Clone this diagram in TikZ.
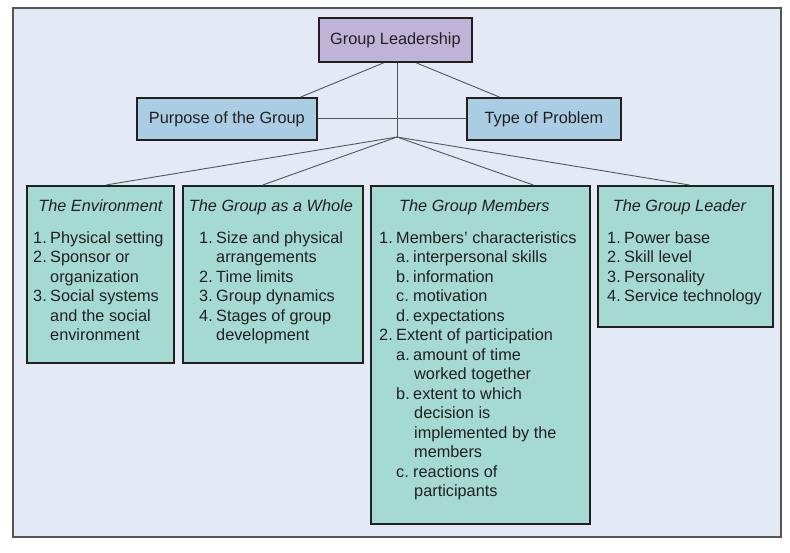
\documentclass[tikz,border=0pt]{standalone}
\usepackage{fontspec}
\setmainfont{Liberation Sans}
\usetikzlibrary{calc}
\definecolor{panelbg}{HTML}{E3E9F5}
\definecolor{panelline}{HTML}{555555}
\definecolor{glfill}{HTML}{C0B3D8}
\definecolor{midfill}{HTML}{AACDE3}
\definecolor{lowfill}{HTML}{A5DAD2}
\definecolor{ink}{HTML}{231F20}
\definecolor{conn}{HTML}{555555}
\newcommand{\Lline}[3]{\noindent\hspace*{#1}\makebox[17pt][l]{#2}#3\par}
\begin{document}
\begin{tikzpicture}[x=1pt,y=-1pt,
  font=\fontsize{16.3}{19.5}\selectfont, text=ink,
  box/.style={draw=ink, line width=1.8pt, inner sep=0pt, anchor=north west},
  conline/.style={draw=conn, line width=0.9pt},
  boxtitle/.style={font=\fontsize{16.3}{19.5}\selectfont\itshape, anchor=base, inner sep=0pt},
  listtext/.style={anchor=base west, inner sep=0pt}]
\useasboundingbox (0,0) rectangle (790,552);
\filldraw[fill=panelbg, draw=panelline, line width=1.2pt] (13,8) rectangle (781,537);

% boxes
\node[box, fill=glfill, minimum width=153pt, minimum height=44pt] (gl) at (318,17) {Group Leadership};
\node[box, fill=midfill, minimum width=180pt, minimum height=42pt] (pur) at (136,97) {Purpose of the Group};
\node[box, fill=midfill, minimum width=154pt, minimum height=42pt] (typ) at (466,97) {Type of Problem};
\node[box, fill=lowfill, minimum width=147pt, minimum height=177pt] (env) at (26,185) {};
\node[box, fill=lowfill, minimum width=180pt, minimum height=177pt] (gw) at (182,185) {};
\node[box, fill=lowfill, minimum width=219pt, minimum height=338pt] (mem) at (370,185) {};
\node[box, fill=lowfill, minimum width=175pt, minimum height=141pt] (lead) at (597,185) {};

% connectors
\coordinate (J) at (397,137);
\draw[conline] ($(gl.south west)!0.425!(gl.south east)$) -- ($(pur.north west)!0.906!(pur.north east)$);
\draw[conline] ($(gl.south west)!0.634!(gl.south east)$) -- ($(typ.north west)!0.214!(typ.north east)$);
\draw[conline] (J |- gl.south) -- (J);
\draw[conline] (pur.east) -- (typ.west);
\draw[conline] (J) -- ($(env.north west)!0.537!(env.north east)$);
\draw[conline] (J) -- ($(gw.north west)!0.444!(gw.north east)$);
\draw[conline] (J) -- ($(mem.north west)!0.74!(mem.north east)$);
\draw[conline] (J) -- ($(lead.north west)!0.523!(lead.north east)$);

% titles
\node[boxtitle] (envt) at ($(env.north)+(0,26)$) {The Environment};
\node[boxtitle] (gwt) at ($(gw.north)+(-2,26)$) {The Group as a Whole};
\node[boxtitle] (memt) at ($(mem.north)+(-6,26)$) {The Group Members};
\node[boxtitle] (leadt) at ($(lead.north)+(-6,26)$) {The Group Leader};

% lists
\node[listtext] (envl) at (33,243) {\parbox[t]{150pt}{%
\Lline{0pt}{1.}{Physical setting}
\Lline{0pt}{2.}{Sponsor or}
\Lline{0pt}{}{organization}
\Lline{0pt}{3.}{Social systems}
\Lline{0pt}{}{and the social}
\Lline{0pt}{}{environment}}};
\node[listtext] (gwl) at (199,243) {\parbox[t]{170pt}{%
\Lline{0pt}{1.}{Size and physical}
\Lline{0pt}{}{arrangements}
\Lline{0pt}{2.}{Time limits}
\Lline{0pt}{3.}{Group dynamics}
\Lline{0pt}{4.}{Stages of group}
\Lline{0pt}{}{development}}};
\node[listtext] (meml) at (379,243) {\parbox[t]{215pt}{%
\Lline{0pt}{1.}{Members’ characteristics}
\Lline{17pt}{a.}{interpersonal skills}
\Lline{17pt}{b.}{information}
\Lline{17pt}{c.}{motivation}
\Lline{17pt}{d.}{expectations}
\Lline{0pt}{2.}{Extent of participation}
\Lline{17pt}{a.}{amount of time}
\Lline{18pt}{}{worked together}
\Lline{17pt}{b.}{extent to which}
\Lline{18pt}{}{decision is}
\Lline{18pt}{}{implemented by the}
\Lline{18pt}{}{members}
\Lline{17pt}{c.}{reactions of}
\Lline{18pt}{}{participants}}};
\node[listtext] (leadl) at (607,243) {\parbox[t]{170pt}{%
\Lline{0pt}{1.}{Power base}
\Lline{0pt}{2.}{Skill level}
\Lline{0pt}{3.}{Personality}
\Lline{0pt}{4.}{Service technology}}};
\end{tikzpicture}
\end{document}
